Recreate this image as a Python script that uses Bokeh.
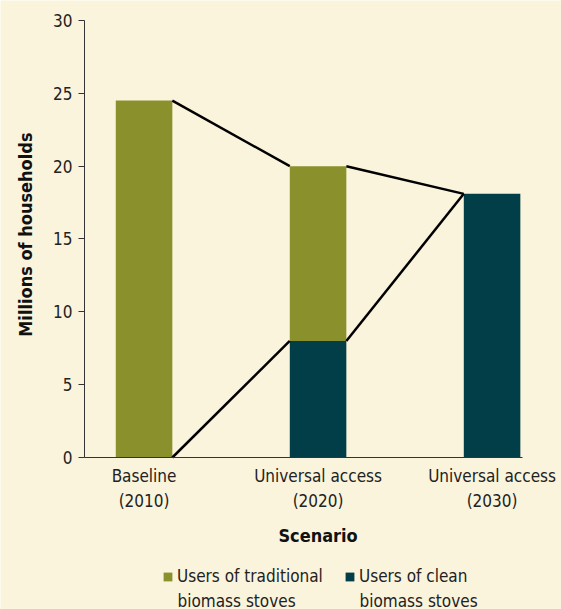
import math
from bokeh.plotting import figure
from bokeh.models import FixedTicker, Legend, LegendItem, Range1d, ColumnDataSource, Label
from bokeh.embed import file_html
from bokeh.resources import INLINE

# ---- data ----
scenarios = ["Baseline\n(2010)", "Universal access\n(2020)", "Universal access\n(2030)"]
traditional = [24.5, 12.0, 0.0]
clean = [0.0, 8.0, 18.1]
legend_labels = ["Users of traditional\nbiomass stoves", "Users of clean\nbiomass stoves"]
x_title = "Scenario"
y_title = "Millions of households"
y_ticks = [0, 5, 10, 15, 20, 25, 30]

# ---- style / layout ----
BG = "#FBF4DC"
OLIVE = "#8A912C"
TEAL = "#023E47"
AXIS = "#333333"
FONT = "DejaVu Sans Condensed, DejaVu Sans, sans-serif"
W = 0.325                      # bar width (x units)
X_VIEW = (-0.825, 2.399)       # whole picture width
Y_VIEW = (-10.435, 31.373)     # whole picture height
X_AXIS_SPAN = (-0.342, 2.175)  # drawn extent of the x axis line

xs = list(range(len(scenarios)))
totals = [c + t for c, t in zip(clean, traditional)]

src = ColumnDataSource(dict(x=xs, clean=clean, traditional=traditional))

p = figure(
    frame_width=561, frame_height=609, min_border=0,
    x_range=Range1d(*X_VIEW), y_range=Range1d(*Y_VIEW),
    output_backend="svg", toolbar_location=None,
    background_fill_color=BG, border_fill_color=BG, outline_line_color=None,
)
p.grid.visible = False

rs = p.vbar_stack(["clean", "traditional"], x="x", width=W, source=src,
                  color=[TEAL, OLIVE], line_color=None)

# connector lines between bar edges
x0 = [xs[i] + W / 2 for i in range(len(xs) - 1)]
x1 = [xs[i + 1] - W / 2 for i in range(len(xs) - 1)]
p.segment(x0=x0, y0=totals[:-1], x1=x1, y1=totals[1:], line_color="black", line_width=2.5)
p.segment(x0=x0, y0=clean[:-1], x1=x1, y1=clean[1:], line_color="black", line_width=2.5)

# y axis pinned at the left end of the x axis, drawn from 0 to 30
ya = p.yaxis[0]
ya.fixed_location = X_AXIS_SPAN[0]
ya.bounds = (y_ticks[0], y_ticks[-1])
ya.ticker = FixedTicker(ticks=y_ticks)
ya.axis_line_color = AXIS
ya.major_tick_line_color = AXIS
ya.major_tick_out = 6
ya.major_tick_in = 0
ya.minor_tick_line_color = None
ya.major_label_text_font = FONT
ya.major_label_text_font_size = "17px"
ya.major_label_text_color = "#222222"
ya.major_label_standoff = 6

# x axis pinned at y = 0
xa = p.xaxis[0]
xa.fixed_location = 0
xa.bounds = X_AXIS_SPAN
xa.ticker = FixedTicker(ticks=xs)
xa.major_label_overrides = {x: s for x, s in zip(xs, scenarios)}
xa.axis_line_color = AXIS
xa.major_tick_line_color = None
xa.minor_tick_line_color = None
xa.major_label_text_font = FONT
xa.major_label_text_font_size = "17px"
xa.major_label_text_color = "#222222"
xa.major_label_text_line_height = 1.24
xa.major_label_standoff = 3

# axis titles
p.add_layout(Label(x=xs[1], y=-5.35, text=x_title, text_align="center", text_baseline="middle",
                   text_font=FONT, text_font_style="bold", text_font_size="18px",
                   text_color="#111111"))
p.add_layout(Label(x=25, x_units="screen", y=(y_ticks[0] + y_ticks[-1]) / 2 + 0.3,
                   text=y_title, angle=math.pi / 2, text_align="center", text_baseline="middle",
                   text_font=FONT, text_font_style="bold", text_font_size="18px",
                   text_color="#111111"))

# legend: one legend per series, second text line as a label beneath
legend_x = [162, 344]
for lab, r, lx in zip(legend_labels, [rs[1], rs[0]], legend_x):
    first, second = lab.split("\n")
    lg = Legend(
        items=[LegendItem(label=first, renderers=[r])],
        location=(lx, 23),
        glyph_width=11, glyph_height=11, label_standoff=4,
        padding=0, margin=0, border_line_color=None, background_fill_alpha=0,
        label_text_font=FONT, label_text_font_size="17px", label_text_color="#222222",
    )
    p.add_layout(lg, "center")
    p.add_layout(Label(x=lx + 15, x_units="screen", y=9, y_units="screen", text=second,
                       text_align="left", text_baseline="middle",
                       text_font=FONT, text_font_size="17px", text_color="#222222"))

open("out.html", "w").write(file_html(p, INLINE))
